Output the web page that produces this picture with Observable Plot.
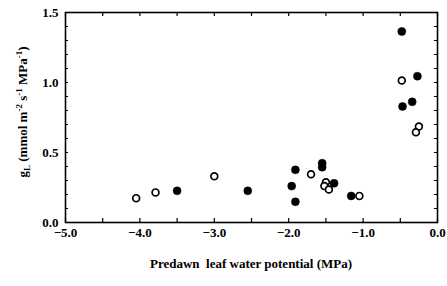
<!DOCTYPE html>
<html><head><meta charset="utf-8">
<script src="https://cdn.jsdelivr.net/npm/d3@7"></script>
<script src="https://cdn.jsdelivr.net/npm/@observablehq/plot@0.6"></script>
<style>body{margin:0;background:#fff}</style>
</head><body><div id="chart"></div>
<script>
const filledX = [-3.50, -2.55, -1.91, -1.96, -1.91, -1.55, -1.55, -1.39, -1.16, -0.48, -0.27, -0.47, -0.34];
const filledY = [0.226, 0.226, 0.376, 0.26, 0.148, 0.424, 0.395, 0.28, 0.19, 1.364, 1.045, 0.829, 0.862];
const openX = [-4.05, -3.79, -3.00, -1.70, -1.50, -1.52, -1.46, -1.05, -0.48, -0.25, -0.29];
const openY = [0.174, 0.215, 0.33, 0.345, 0.288, 0.26, 0.236, 0.19, 1.014, 0.686, 0.645];
const xTickLabels = [-5, -4, -3, -2, -1, 0];
const yTickLabels = [0, 0.5, 1.0, 1.5];
const xMinor = d3.range(-5, 0.001, 0.5);
const yMinor = d3.range(0, 1.5001, 0.1);
const xLabel = "Predawn  leaf water potential (MPa)";

const filled = filledX.map((x, i) => ({x, y: filledY[i]}));
const open = openX.map((x, i) => ({x, y: openY[i]}));
const font = "'Liberation Serif', 'Times New Roman', serif";
const W = 447, H = 286, ML = 65, MR = 10, MT = 12, MB = 64;
const PW = W - ML - MR, PH = H - MT - MB;

const chart = Plot.plot({
  width: W, height: H,
  marginLeft: ML, marginRight: MR, marginTop: MT, marginBottom: MB,
  style: {fontFamily: font, fontSize: "13px", fontWeight: "bold", color: "#000", background: "#fff"},
  x: {domain: [-5, 0]},
  y: {domain: [0, 1.5]},
  marks: [
    Plot.tickX(xMinor, {x: d => d, insetTop: PH - 4, stroke: "#000", strokeWidth: 1.2}),
    Plot.tickX(xMinor, {x: d => d, insetBottom: PH - 4, stroke: "#000", strokeWidth: 1.2}),
    Plot.tickY(yMinor, {y: d => d, insetRight: PW - 3, stroke: "#000", strokeWidth: 1}),
    Plot.tickY(yMinor, {y: d => d, insetLeft: PW - 3, stroke: "#000", strokeWidth: 1}),
    Plot.frame({stroke: "#000", strokeWidth: 1.6}),
    Plot.axisX(xTickLabels, {anchor: "bottom", tickSize: 0, tickPadding: 5, tickFormat: d3.format(".1f"), label: null, fontSize: 13}),
    Plot.axisY(yTickLabels, {anchor: "left", tickSize: 0, tickPadding: 7, tickFormat: d3.format(".1f"), label: null, fontSize: 13}),
    Plot.dot(filled, {x: "x", y: "y", r: 4, fill: "#000", stroke: "#000", strokeWidth: 0.5}),
    Plot.dot(open, {x: "x", y: "y", r: 3.4, fill: "#fff", stroke: "#000", strokeWidth: 1.7})
  ]
});
document.getElementById("chart").appendChild(chart);

const svg = d3.select(chart);
svg.append("text")
  .attr("x", 251).attr("y", 268)
  .attr("text-anchor", "middle")
  .style("font-size", "13px")
  .attr("xml:space", "preserve")
  .text(xLabel);

const yl = svg.append("text")
  .attr("transform", "translate(27,112) rotate(-90)")
  .attr("text-anchor", "middle")
  .style("font-size", "13px");
yl.append("tspan").text("g");
yl.append("tspan").attr("dy", 3).style("font-size", "9px").text("L");
yl.append("tspan").attr("dy", -3).text(" (mmol m");
yl.append("tspan").attr("dy", -5).style("font-size", "9px").text("-2");
yl.append("tspan").attr("dy", 5).text(" s");
yl.append("tspan").attr("dy", -5).style("font-size", "9px").text("-1");
yl.append("tspan").attr("dy", 5).text(" MPa");
yl.append("tspan").attr("dy", -5).style("font-size", "9px").text("-1");
yl.append("tspan").attr("dy", 5).text(")");
svg.selectAll("text").style("font-family", font).style("font-weight", "bold").attr("fill", "#000");
</script>
</body></html>
